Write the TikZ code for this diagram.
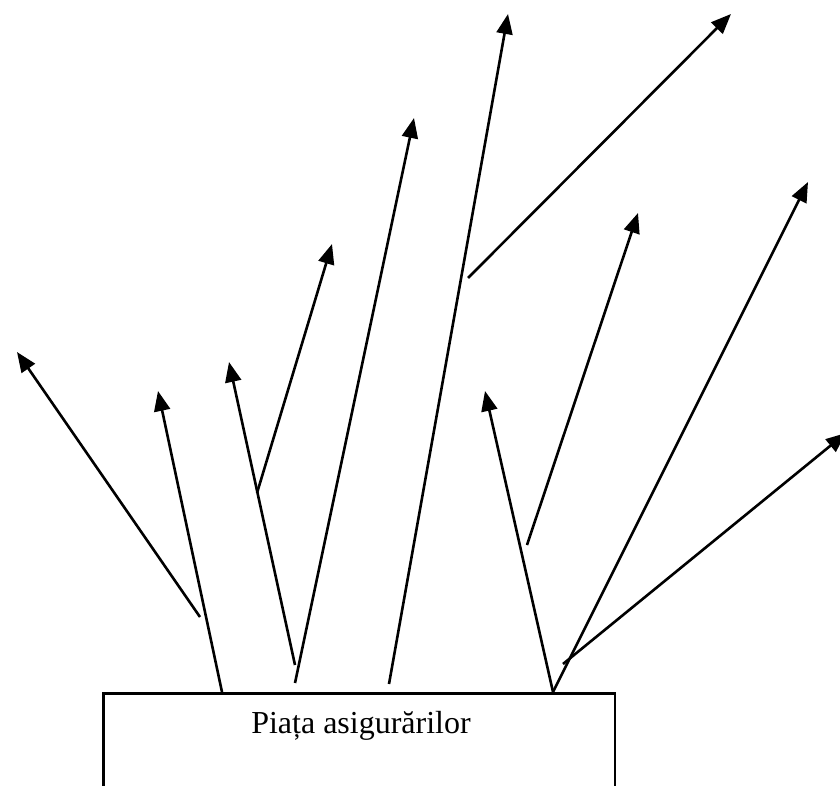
\documentclass[tikz,border=0pt]{standalone}
\usepackage{fontspec}
\setmainfont{Liberation Serif}
\usetikzlibrary{arrows.meta}
\tikzset{
  arr/.style={line width=2.6pt, -{Triangle[length=20pt,width=16pt]}},
  boxframe/.style={draw, line width=2.6pt, minimum width=511.5pt, minimum height=140pt, anchor=north, inner sep=0pt},
  lbl/.style={font=\fontsize{32}{36}\selectfont, anchor=base, inner sep=0pt}
}
\begin{document}
\begin{tikzpicture}[x=1pt,y=-1pt]
\useasboundingbox (0,0) rectangle (840,786);
\clip (0,0) rectangle (840,786);
\node[boxframe] (piata) at (359.25,692) {};
\node[lbl] (txt) at (361,733) {Piața asigurărilor};
% tails
\coordinate (t1) at (200,617);
\coordinate (t2) at (222,692);
\coordinate (t3) at (295,665);
\coordinate (t4) at (257,493);
\coordinate (t5) at (295,683);
\coordinate (t6) at (389,684);
\coordinate (t7) at (468,278);
\coordinate (t8) at (553,692);
\coordinate (t9) at (527,545);
\coordinate (t10) at (553,692);
\coordinate (t11) at (563,664);
% tips
\coordinate (h1) at (17,352);
\coordinate (h2) at (158,391);
\coordinate (h3) at (229,362);
\coordinate (h4) at (332,244);
\coordinate (h5) at (414,118);
\coordinate (h6) at (508,14);
\coordinate (h7) at (731,14);
\coordinate (h8) at (485,391);
\coordinate (h9) at (638,213);
\coordinate (h10) at (808,182);
\coordinate (h11) at (846,433);
\foreach \i in {1,...,11} \draw[arr] (t\i) -- (h\i);
\end{tikzpicture}
\end{document}
